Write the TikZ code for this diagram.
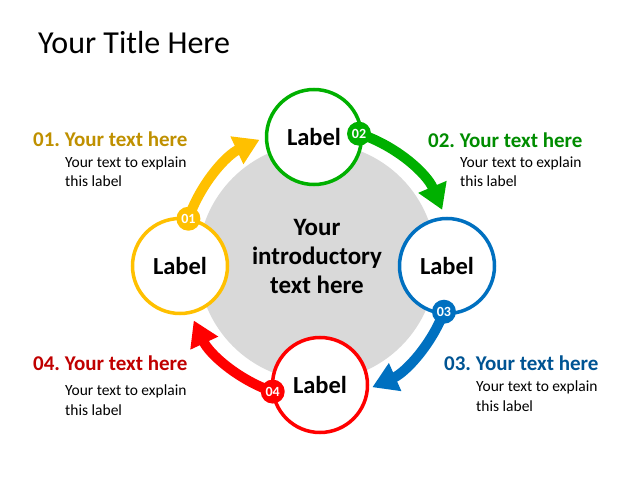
\documentclass[tikz,border=0pt]{standalone}
\usepackage{fontspec}
\setmainfont{Carlito}
\usepackage{tikz}
\usetikzlibrary{positioning, arrows.meta, calc}
\definecolor{yellowColor}{RGB}{255, 192, 0}
\definecolor{goldColor}{RGB}{191, 144, 0}
\definecolor{greenColor}{RGB}{0, 176, 0}
\definecolor{darkGreenColor}{RGB}{0, 140, 0}
\definecolor{blueColor}{RGB}{0, 112, 192}
\definecolor{darkBlueColor}{RGB}{0, 84, 147}
\definecolor{redColor}{RGB}{255, 0, 0}
\definecolor{darkRedColor}{RGB}{192, 0, 0}
\definecolor{grayColor}{RGB}{217, 217, 217}
\frenchspacing

\begin{document}
\begin{tikzpicture}[
    x=1pt, y=1pt,
    circulo/.style={
        circle,
        line width=3.5pt,
        fill=white,
        minimum size=95pt,
        inner sep=0pt,
        font=\fontsize{24.5}{29}\selectfont\bfseries
    },
    insignia/.style={
        circle,
        inner sep=0pt,
        minimum size=24pt,
        text=white,
        font=\fontsize{14}{16}\selectfont\bfseries
    },
    encabezado/.style={
        anchor=base west,
        inner sep=0pt,
        font=\fontsize{21}{25}\selectfont\bfseries
    },
    explicacion/.style={
        anchor=base west,
        inner sep=0pt,
        align=left,
        font=\fontsize{15.5}{19.5}\selectfont
    },
    flecha/.style={
        -{Triangle[length=25pt, width=29pt]},
        line width=10pt
    }
]

\useasboundingbox (0,0) rectangle (640,480);

\coordinate (centro) at (317,217);
\coordinate (p1) at ($(centro)+(161:136pt)$);
\coordinate (p2) at ($(centro)+(72:136pt)$);
\coordinate (p3) at ($(centro)+(-21:136pt)$);
\coordinate (p4) at ($(centro)+(-109:136pt)$);

\node[circle, fill=grayColor, minimum size=238pt, inner sep=0pt] (fondo) at (317,218) {};
\node[align=center, inner sep=0pt, font=\fontsize{25}{29}\selectfont\bfseries] (intro) at (317,224) {Your\\introductory\\text here};

\draw[flecha, yellowColor] (p1) arc[start angle=161, end angle=115, radius=136pt];
\draw[flecha, greenColor] (p2) arc[start angle=72, end angle=23, radius=136pt];
\draw[flecha, blueColor] (p3) arc[start angle=-21, end angle=-66, radius=136pt];
\draw[flecha, redColor] (p4) arc[start angle=-109, end angle=-155, radius=136pt];

\node[circulo, draw=greenColor] (arriba) at (314,343) {Label};
\node[circulo, draw=blueColor] (derecha) at (447,214) {Label};
\node[circulo, draw=redColor] (abajo) at (320,95) {Label};
\node[circulo, draw=yellowColor] (izquierda) at (180,214) {Label};

\node[insignia, fill=yellowColor] (n1) at (p1) {01};
\node[insignia, fill=greenColor] (n2) at (p2) {02};
\node[insignia, fill=blueColor] (n3) at (p3) {03};
\node[insignia, fill=redColor] (n4) at (p4) {04};

\node[anchor=base west, inner sep=0pt, font=\fontsize{32}{38}\selectfont] (titulo) at (38,426) {Your Title Here};

\node[encabezado, text=goldColor] (t1) at (33,333) {01. Your text here};
\node[explicacion] (e1) at (65,293) {Your text to explain\\this label};
\node[encabezado, text=darkGreenColor] (t2) at (428,332) {02. Your text here};
\node[explicacion] (e2) at (460,293) {Your text to explain\\this label};
\node[encabezado, text=darkBlueColor] (t3) at (444,110) {03. Your text here};
\node[explicacion] (e3) at (476,69) {Your text to explain\\this label};
\node[encabezado, text=darkRedColor] (t4) at (33,110) {04. Your text here};
\node[explicacion] (e4) at (65,65) {Your text to explain\\this label};

\end{tikzpicture}
\end{document}
